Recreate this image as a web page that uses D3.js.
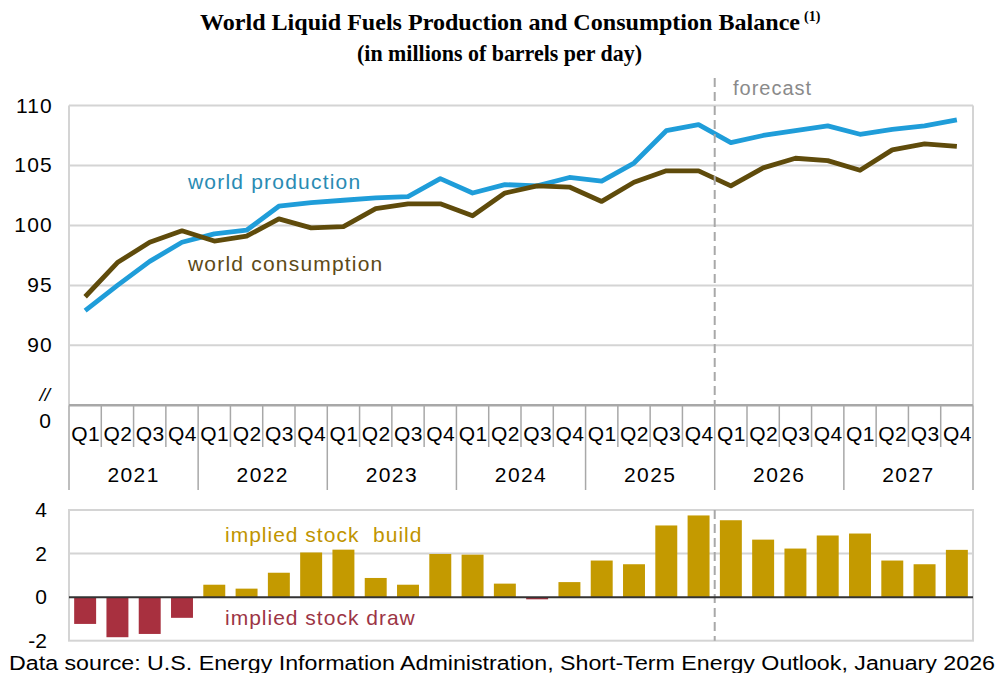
<!DOCTYPE html>
<html><head><meta charset="utf-8">
<script src="https://cdn.jsdelivr.net/npm/d3@7"></script>
<style>body{margin:0;background:#fff}svg{display:block}text{font-family:"Liberation Sans",Arial,sans-serif}</style>
</head><body>
<svg id="c" width="998" height="673"></svg>
<script>
const years = ["2021","2022","2023","2024","2025","2026","2027"];
const quarters = ["Q1","Q2","Q3","Q4"];
const production = [92.9,95.0,97.0,98.6, 99.3,99.6,101.6,101.9, 102.1,102.3,102.4,103.9, 102.7,103.4,103.3,104.0, 103.7,105.2,107.9,108.4, 106.9,107.5,107.9,108.3, 107.6,108.0,108.3,108.8];
const consumption = [94.05,96.9,98.6,99.55, 98.7,99.1,100.55,99.8, 99.9,101.4,101.8,101.8, 100.8,102.7,103.3,103.2, 102.0,103.6,104.55,104.55, 103.3,104.8,105.6,105.4, 104.6,106.3,106.8,106.6];
const balance = [-1.23,-1.84,-1.69,-0.95, 0.57,0.39,1.12,2.05, 2.18,0.88,0.57,1.98, 1.95,0.62,-0.1,0.69, 1.68,1.51,3.29,3.75, 3.53,2.64,2.23,2.83, 2.92,1.68,1.51,2.17];
const topTicks = [90,95,100,105,110];
const botTicks = [-2,0,2,4];
const forecastStart = 20;

const svg = d3.select("#c");
const labels = [];
years.forEach(y => quarters.forEach(q => labels.push(y + q)));
const L = 69, R = 973;
const x = d3.scaleBand().domain(labels).range([L, R]).paddingInner(0.32).paddingOuter(0.16);
const xc = d => x(d) + x.bandwidth()/2;
const step = (R - L) / labels.length;
const yT = d3.scaleLinear().domain([85,110]).range([405.3,105.5]);
const yB = d3.scaleLinear().domain([-2,4]).range([640.7,510]);
const grid = "#d4d4d4";
const serif = "'Liberation Serif','Times New Roman',serif";

// Title
const t = svg.append("text").attr("x",200).attr("y",30)
  .style("font-family",serif).style("font-weight","bold").style("font-size","24px");
t.append("tspan").attr("textLength",600).attr("lengthAdjust","spacingAndGlyphs").text("World Liquid Fuels Production and Consumption Balance");
t.append("tspan").attr("dx",4).attr("dy",-9).style("font-size","14px").text("(1)");
svg.append("text").attr("x",357).attr("y",61)
  .style("font-family",serif).style("font-weight","bold").style("font-size","24px")
  .attr("textLength",285).attr("lengthAdjust","spacingAndGlyphs")
  .text("(in millions of barrels per day)");

// Top gridlines
svg.append("g").selectAll("line").data(topTicks).join("line")
  .attr("x1",L).attr("x2",R).attr("y1",d=>yT(d)).attr("y2",d=>yT(d))
  .attr("stroke",grid).attr("stroke-width",2);
svg.append("line").attr("x1",L).attr("x2",L).attr("y1",yT(110)).attr("y2",yT(85)).attr("stroke",grid).attr("stroke-width",2);
svg.append("line").attr("x1",R).attr("x2",R).attr("y1",yT(110)).attr("y2",yT(85)).attr("stroke",grid).attr("stroke-width",2);

// Top y labels
svg.append("g").selectAll("text").data(topTicks).join("text")
  .attr("x",53).attr("y",d=>yT(d)+7).attr("text-anchor","end").style("font-size","21px").style("letter-spacing","1.2px").text(d=>d);
svg.append("text").attr("x",50).attr("y",401).attr("text-anchor","end").style("font-size","19px").style("font-style","italic").text("//");
svg.append("text").attr("x",51).attr("y",428).attr("text-anchor","end").style("font-size","21px").text("0");

// X axis
const axY = yT(85);
svg.append("line").attr("x1",L).attr("x2",R).attr("y1",axY).attr("y2",axY).attr("stroke","#a8a8a8").attr("stroke-width",2.5);
const bounds = d3.range(labels.length+1);
svg.append("g").selectAll("line").data(bounds).join("line")
  .attr("x1",i=>L+i*step).attr("x2",i=>L+i*step).attr("y1",axY)
  .attr("y2",i=> i%4===0 ? 490 : 447).attr("stroke","#a8a8a8").attr("stroke-width",1.5);
svg.append("g").selectAll("text").data(labels).join("text")
  .attr("x",d=>xc(d)+0.5).attr("y",441).attr("text-anchor","middle").style("font-size","21px").style("letter-spacing","0.4px")
  .text(d=>d.slice(4));
svg.append("g").selectAll("text").data(years).join("text")
  .attr("x",(d,i)=>L+(i*4+2)*step).attr("y",482).attr("text-anchor","middle").style("font-size","21px").style("letter-spacing","1.4px").text(d=>d);

// Lines
const line = d3.line().x((d,i)=>xc(labels[i])).y(d=>yT(d)).curve(d3.curveLinear);
svg.append("path").datum(production).attr("d",line).attr("fill","none").attr("stroke","#1f9dd9").attr("stroke-width",4.8).attr("stroke-linejoin","round");
svg.append("path").datum(consumption).attr("d",line).attr("fill","none").attr("stroke","#5f4b0b").attr("stroke-width",4.8).attr("stroke-linejoin","round");
svg.append("text").attr("x",188).attr("y",189).style("font-size","21px").style("letter-spacing","1.2px").attr("fill","#2a8bb3").text("world production");
svg.append("text").attr("x",188).attr("y",271).style("font-size","21px").style("letter-spacing","1.2px").attr("fill","#5d4a17").text("world consumption");

// Forecast
const fx = L + forecastStart*step;
svg.append("line").attr("x1",fx).attr("x2",fx).attr("y1",78).attr("y2",axY).attr("stroke","#a8a8a8").attr("stroke-width",2).attr("stroke-dasharray","9,5");
svg.append("text").attr("x",733).attr("y",95).style("font-size","20px").style("letter-spacing","1px").attr("fill","#8a8a8a").text("forecast");

// Bottom chart
svg.append("rect").attr("x",L).attr("y",yB(4)).attr("width",R-L).attr("height",yB(-2)-yB(4)).attr("fill","none").attr("stroke",grid).attr("stroke-width",2);
svg.append("line").attr("x1",L).attr("x2",R).attr("y1",yB(2)).attr("y2",yB(2)).attr("stroke",grid).attr("stroke-width",2);
svg.append("line").attr("x1",fx).attr("x2",fx).attr("y1",yB(4)).attr("y2",yB(-2)).attr("stroke","#a8a8a8").attr("stroke-width",2).attr("stroke-dasharray","9,5");
svg.append("g").selectAll("rect").data(balance).join("rect")
  .attr("x",(d,i)=>x(labels[i])).attr("width",x.bandwidth())
  .attr("y",d=>yB(Math.max(0,d))).attr("height",d=>Math.abs(yB(d)-yB(0)))
  .attr("fill",d=>d>=0 ? "#c49a00" : "#a8303f");
svg.append("line").attr("x1",L).attr("x2",R).attr("y1",yB(0)).attr("y2",yB(0)).attr("stroke","#333").attr("stroke-width",2);
svg.append("g").selectAll("text").data(botTicks).join("text")
  .attr("x",47).attr("y",d=>yB(d)+7).attr("text-anchor","end").style("font-size","21px").text(d=>d);
svg.append("text").attr("x",225).attr("y",542).style("font-size","21px").style("letter-spacing","1px").attr("fill","#c09400").attr("xml:space","preserve").text("implied stock  build");
svg.append("text").attr("x",225).attr("y",625).style("font-size","21px").style("letter-spacing","1px").attr("fill","#9c3545").text("implied stock draw");

// Source
svg.append("text").attr("x",9).attr("y",670).style("font-size","20px")
  .attr("textLength",986).attr("lengthAdjust","spacingAndGlyphs")
  .text("Data source: U.S. Energy Information Administration, Short-Term Energy Outlook, January 2026");
</script>
</body></html>
